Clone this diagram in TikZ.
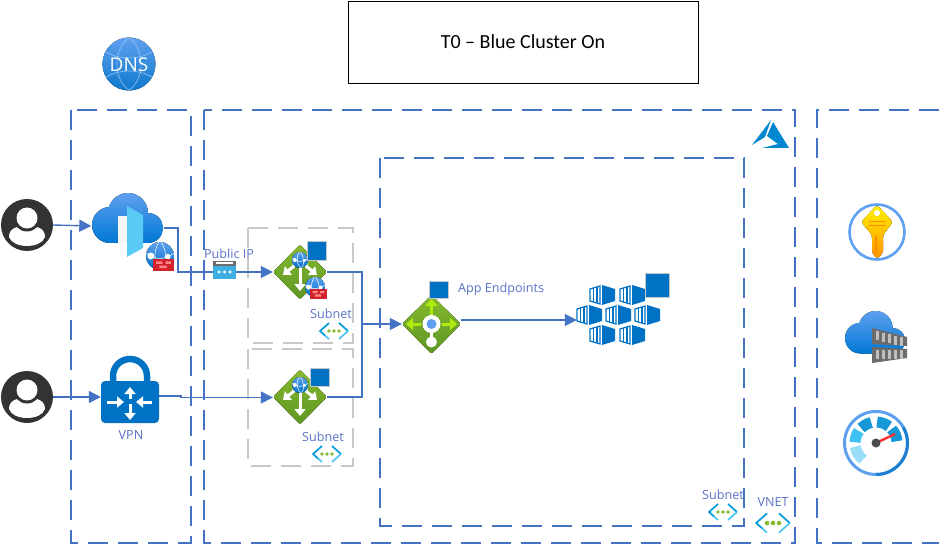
\documentclass[tikz,border=0pt]{standalone}
\usepackage{fontspec}
\setmainfont{Open Sans}
\newfontfamily\titlefont{Carlito}
\usetikzlibrary{arrows.meta,shapes.geometric}
\definecolor{dashblue}{HTML}{4472C4}
\definecolor{labelblue}{HTML}{5A72C8}
\definecolor{grayd}{HTML}{C8C8C8}
\definecolor{azblue}{HTML}{0072C6}
\definecolor{cloudtop}{HTML}{5EA0EF}
\definecolor{cloudbot}{HTML}{0078D4}
\definecolor{gwtop}{HTML}{86B92E}
\definecolor{gwbot}{HTML}{5E9624}
\definecolor{fwred}{HTML}{D2232C}
\definecolor{dark}{HTML}{333333}
\tikzset{
 zone/.style={draw=dashblue,line width=2.4pt,dash pattern=on 20pt off 10pt},
 subzone/.style={draw=grayd,line width=2.5pt,dash pattern=on 20pt off 10pt},
 link/.style={draw=dashblue,line width=1.4pt},
 linkarrow/.style={link,-{Triangle[length=12pt,width=12pt]}},
 lbl/.style={text=labelblue,font=\fontsize{12.6}{14}\selectfont,inner sep=0pt},
 anchorbox/.style={inner sep=0pt,minimum width=#1,minimum height=#1},
 sq/.style={fill=azblue,draw=grayd,line width=.8pt},
 whitearrow/.style={draw=white,line width=3pt,-{Triangle[length=7pt,width=11pt]}},
 limearrow/.style={draw=#1,line width=3pt,-{Triangle[length=7pt,width=12pt]}},
 pics/person/.style={code={
   \fill[dark] (0,0) circle[radius=26];
   \fill[white] (-18,12) .. controls (-18,3) and (-10,1) .. (0,1) .. controls (10,1) and (18,3) .. (18,12) .. controls (14,24) and (-14,24) .. (-18,12) -- cycle;
   \fill[dark] (0,-7) circle[radius=13.5];
   \fill[white] (0,-7) circle[radius=10.5];
 }},
 pics/azcloud/.style={code={
   \begin{scope}
   \clip (18,32) circle[radius=18] (36,20) circle[radius=20] (56,35) circle[radius=15] (56,30) rectangle (18,50);
   \fill[top color=cloudtop,bottom color=cloudbot] (0,0) rectangle (71,50);
   \end{scope}
 }},
 pics/globe/.style={code={
   \fill[top color=cloudtop,bottom color=azblue] (0,0) circle[radius=#1];
   \draw[white,line width=.5pt] (-#1,-.2*#1) .. controls (-.3*#1,.3*#1) and (.3*#1,.3*#1) .. (#1,-.2*#1);
   \draw[white,line width=.5pt] (-.1*#1,-#1) .. controls (-.6*#1,0) and (-.3*#1,.6*#1) .. (.1*#1,#1);
   \draw[white,line width=.5pt] (.1*#1,-#1) .. controls (.6*#1,0) and (.5*#1,.6*#1) .. (.2*#1,#1);
   \fill[white] (-.65*#1,0) circle[radius=.25*#1] (.55*#1,.05*#1) circle[radius=.2*#1];
 }},
 pics/bricks/.style={code={
   \fill[fwred] (-10,-6) rectangle (10,6);
   \fill[red!30!pink] (-7,-3.5) rectangle (-1,-1) (2,-3.5) rectangle (7,-1) (-4,.5) rectangle (3,3);
 }},
 pics/gwbase/.style={code={
   \fill[top color=gwtop,bottom color=gwbot,rounded corners=1.5pt] (-27,0) -- (0,-27.5) -- (27,0) -- (0,27.5) -- cycle;
   \draw[whitearrow] (0,-8) -- (0,19);
   \draw[whitearrow] (-6,-10) -- (-6,-6) -- (-17,3) ;
   \draw[whitearrow] (6,-10) -- (6,-6) -- (17,3);
 }},
 pics/subnet/.style={code={
   \draw[line width=1.7pt,color=azblue!70!cyan,line join=miter] (-5,-8) -- (-14,0) -- (-9,4.5);
   \draw[line width=1.7pt,color=cyan!70!white] (-9,4.5) -- (-5,8);
   \draw[line width=1.7pt,color=azblue!70!cyan] (5,-8) -- (14,0);
   \draw[line width=1.7pt,color=cyan!70!white] (14,0) -- (5,8);
   \fill[gwtop] (-5,0) circle[radius=1.9] (0,0) circle[radius=1.9] (5,0) circle[radius=1.9];
 }},
 pics/cube/.style={code={
   \draw[azblue,line width=1.2pt] (-12,-6) -- (-2,-9) -- (-2,9) -- (-12,6) -- cycle;
   \draw[azblue,line width=1.2pt] (-8.5,-7) -- (-8.5,7) (-5,-8) -- (-5,8);
   \fill[azblue] (0,-10) -- (13,-6) -- (13,6) -- (0,10) -- cycle;
 }},
}
\begin{document}
\begin{tikzpicture}[x=1pt,y=-1pt]
\useasboundingbox (0,0) rectangle (939,545);
\fill[white] (0,0) rectangle (939,545);
% title
\node[draw=black,line width=.9pt,minimum width=350pt,minimum height=82pt,inner sep=0pt,font=\titlefont\fontsize{20}{22}\selectfont] (title) at (523,42) {T0 – Blue Cluster On};
% zones
\draw[zone] (71,110) rectangle (191,543);
\draw[zone] (204,110) rectangle (795,543);
\draw[zone] (939,110) -- (817,110) -- (817,543) -- (939,543);
\draw[zone] (380,158) rectangle (744,526);
\draw[subzone] (248,228) rectangle (353,343);
\draw[subzone] (248,349) rectangle (353,466);
% anchors
\node[anchorbox=52pt] (user1) at (27,225) {};
\node[anchorbox=52pt] (user2) at (27,397) {};
\node[inner sep=0pt,minimum width=72pt,minimum height=50pt] (door) at (127.5,226) {};
\node[inner sep=0pt,minimum width=58pt,minimum height=66pt] (vpn) at (130,389) {};
\node[anchorbox=54pt] (gw1) at (300,272) {};
\node[anchorbox=54pt] (gw2) at (300,397) {};
\node[anchorbox=59pt] (appgw) at (431.5,324) {};
\node[inner sep=0pt,minimum width=84pt,minimum height=60pt] (aks) at (619,320) {};
\coordinate (bus) at (362,324);
\coordinate (doorout) at (178,228);
\coordinate (vpnout) at (159,396);
\coordinate (vpnbend) at (181,396);
\coordinate (vpnbendb) at (181,397.5);
% connectors
\draw[linkarrow] (user1.east) -- (door.west);
\draw[linkarrow] (user2.east) -- (vpn.west |- user2);
\draw[linkarrow] (door.east |- doorout) -- (doorout) |- (gw1.west);
\draw[link] (vpnout) -- (vpnbend) -- (vpnbendb);
\draw[linkarrow] (vpnbendb) -- (gw2.west |- vpnbendb);
\draw[link] (gw1.east) -| (bus) |- (gw2.east);
\draw[linkarrow] (bus) -- (appgw.west);
\draw[linkarrow] (appgw.east |- 0,320) -- (aks.west |- 0,320);
% DNS
\fill[top color=cloudtop,bottom color=azblue!85!cloudtop] (129,64) circle[radius=26.5];
\begin{scope}[line width=.6pt]
\draw[white!35!cloudtop] (106,52) .. controls (120,60) and (138,60) .. (152,52) (106,77) .. controls (120,69) and (138,69) .. (152,77);
\draw[white!35!cloudtop] (129,38) .. controls (113,48) and (113,80) .. (129,90) (129,38) .. controls (145,48) and (145,80) .. (129,90);
\end{scope}
\node[text=white,inner sep=0pt,font=\fontsize{19}{21}\selectfont] (dns) at (129,65) {DNS};
% persons
\pic at (27,225) {person};
\pic at (27,397) {person};
% front door
\pic at (92,193) {azcloud};
\fill[white!93!gray] (118,216) rectangle (127,243);
\fill[cyan!65!white] (127,206) -- (143,215) -- (143,248) -- (127,257) -- cycle;
\pic at (160,256) {globe=14};
\pic[scale=1.05] at (163.5,265) {bricks};
% public ip
\fill[cyan!75!azblue!80!white] (213,265) rectangle (236,279);
\fill[gray!85!black] (213,261) rectangle (236,266);
\fill[white] (216,262.5) rectangle (233,264);
\fill[white] (219,272) circle[radius=1.6] (224.5,272) circle[radius=1.6] (230,272) circle[radius=1.6];
% VPN
\draw[azblue,line width=6.5pt] (113,385) -- (113,376) arc[start angle=180,end angle=360,x radius=17,y radius=17] -- (147,385);
\fill[azblue,rounded corners=4pt] (101,381) rectangle (159,423);
\draw[whitearrow] (130,399) -- (130,387);
\draw[whitearrow] (130,404) -- (130,420);
\draw[whitearrow] (107,402) -- (124,402);
\draw[whitearrow] (152,402) -- (136,402);
% gateways
\pic at (300,272) {gwbase};
\pic at (300,260) {globe=8};
\pic at (315,287) {globe=10};
\pic[scale=.85] at (318.5,294) {bricks};
\draw[sq] (307,241) rectangle (326,260);
\pic at (300,397) {gwbase};
\pic at (300,385) {globe=8};
\draw[sq] (310,368) rectangle (329,386);
% app gateway
\fill[top color=gwtop,bottom color=gwbot,rounded corners=1.5pt] (402,324) -- (431.5,295) -- (461,324) -- (431.5,354) -- cycle;
\draw[limearrow=lime!70!gwtop] (431.5,316) -- (431.5,299);
\draw[limearrow=lime!70!gwtop] (421,324) -- (406,324);
\draw[limearrow=lime!70!gwtop] (442,324) -- (457,324);
\fill[white] (431.5,342) circle[radius=5.5];
\fill[white] (431.5,324) circle[radius=9];
\fill[cloudtop] (431.5,324) circle[radius=5];
\draw[white,line width=3pt] (431.5,330) -- (431.5,340);
\draw[sq] (429.5,281) rectangle (448,298.5);
\node[lbl,anchor=west] (appep) at (458,289) {App Endpoints};
% AKS
\foreach \cx/\cy in {602/295,632/295,589/315,618/315,647/315,602/335,632/335}
  \pic at (\cx,\cy) {cube};
\draw[sq] (645,273) rectangle (669,297);
% labels and subnets
\node[lbl] (publicip) at (229,254) {Public IP};
\node[lbl] (vpnl) at (131,435) {VPN};
\node[lbl] (sub1) at (331,314) {Subnet};
\pic at (334,331) {subnet};
\node[lbl] (sub2) at (323,437) {Subnet};
\pic at (327,454) {subnet};
\node[lbl] (sub3) at (723,495) {Subnet};
\pic at (723,512) {subnet};
\node[lbl] (vnet) at (773,502) {VNET};
\pic[scale=1.2] at (773,523) {subnet};
% Azure logo
\fill[azblue!85!cyan] (752,145) -- (771,120) -- (765,137) -- (752,145) -- cycle;
\fill[azblue!85!cyan] (773,122) -- (789,148) -- (762,148) -- (778,144) -- (767,136) -- cycle;
% Key vault
\draw[cloudtop,line width=2.6pt] (877,232) circle[radius=27.5];
\fill[top color=yellow!90!orange,bottom color=orange!85!yellow,rounded corners=3pt] (861,222) -- (877,205) -- (893,222) -- (883,235) -- (883,253) -- (877,259) -- (872,253) -- (872,235) -- cycle;
\fill[white] (877,213) circle[radius=3];
\draw[orange!90!yellow,line width=.9pt] (869,221.5) -- (886,221.5) (869,225) -- (886,225);
\fill[orange!90!yellow] (875,236) rectangle (877,254);
% Registry
\pic[scale=.85] at (845,311) {azcloud};
\fill[gray!85!black] (872,328) -- (907,337) -- (907,346) -- (872,344) -- cycle;
\fill[gray!85!black] (872,347) -- (907,349) -- (907,358) -- (872,363) -- cycle;
\foreach \s/\t/\u in {876/331/350,882/332.5/350,888/334/350,894/335.5/350,900/337/350}{
  \fill[gray!50] (\s,\t) rectangle +(3,9);
  \fill[gray!50] (\s,\u) rectangle +(3,9);
}
% gauge
\draw[cloudtop,line width=3pt] (876,443) circle[radius=31.5];
\draw[azblue!70!cloudtop,line width=3pt] (876,474.5) arc[start angle=90,end angle=-30,radius=31.5];
\foreach \a/\b/\c in {190/232/cyan!40!white,145/178/cyan!75!white,103/135/cyan!65!azblue,52/87/cyan!65!azblue,5/42/cyan!65!azblue}{
  \draw[\c,line width=11pt] ({876+21*cos(\a)},{443-21*sin(\a)}) arc[start angle=-\a,end angle=-\b,radius=21];
}
\draw[red!75!pink,line width=2.4pt] (876,443) -- (895,434);
\fill[gray!60!black] (876,443) circle[radius=4.5];
\end{tikzpicture}
\end{document}
